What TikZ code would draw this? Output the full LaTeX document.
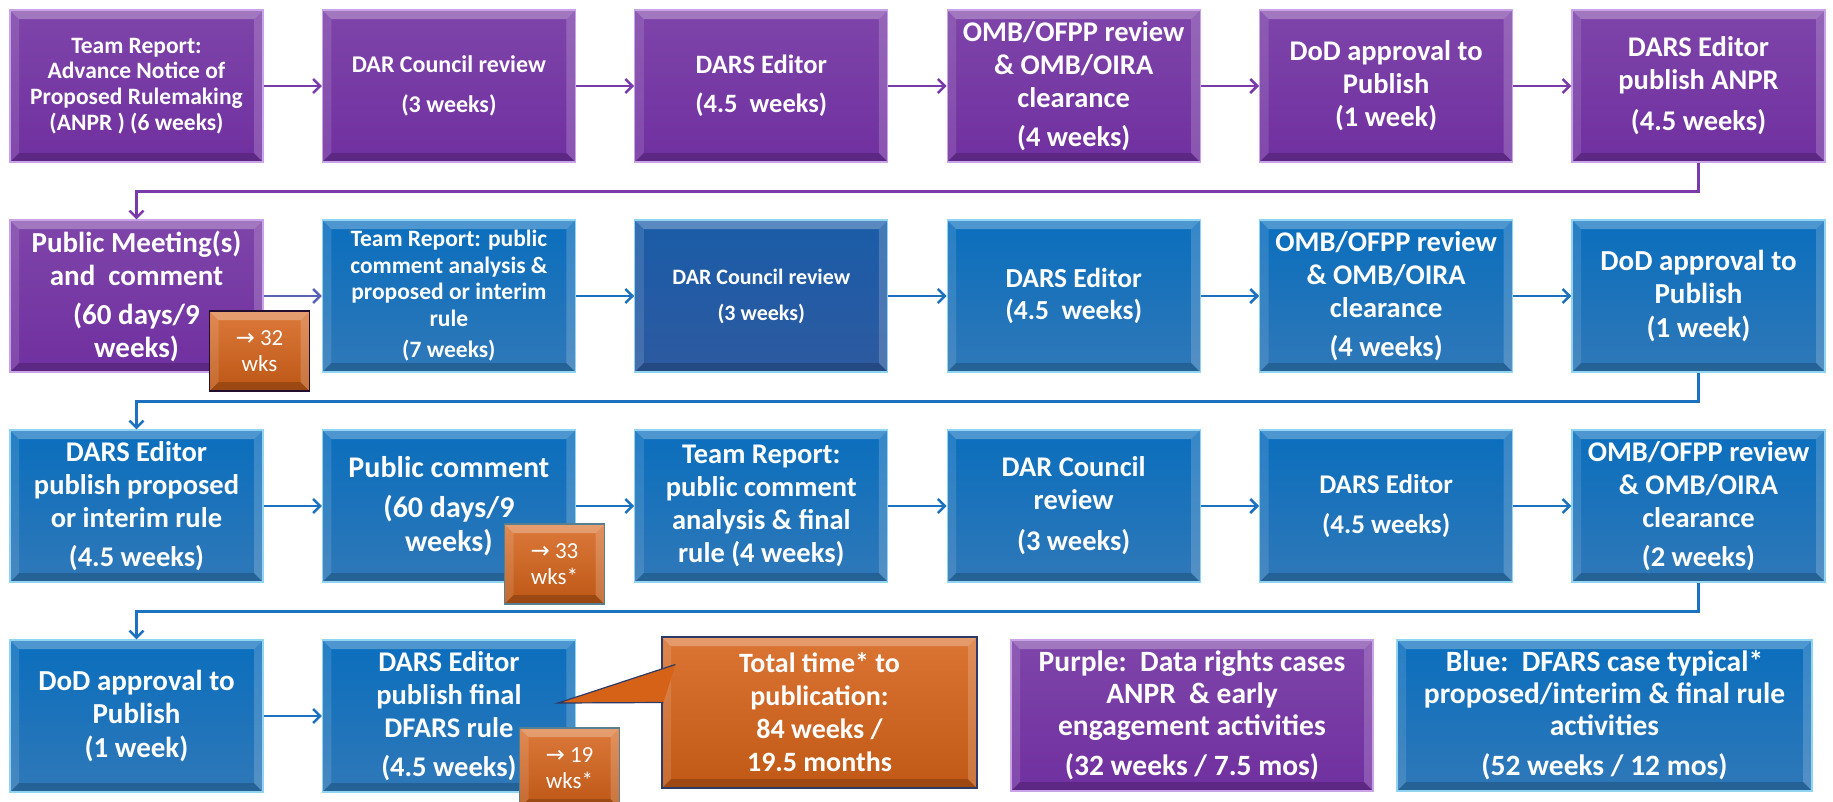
\documentclass[tikz,border=0pt]{standalone}
\usepackage{fontspec}
\setmainfont{Carlito}
\newfontfamily\arrowfont{DejaVu Sans}
\usetikzlibrary{arrows.meta}
\definecolor{anprpurple}{HTML}{7030A0}
\definecolor{purpleedge}{HTML}{C9A3E8}
\definecolor{rulebluetop}{HTML}{0A6EBD}
\definecolor{ruleblue}{HTML}{2F78B8}
\definecolor{councilbluetop}{HTML}{1A5CA8}
\definecolor{councilblue}{HTML}{2D5AA0}
\definecolor{blueedge}{HTML}{90D4F2}
\definecolor{weeksorange}{HTML}{D66218}
\definecolor{calloutedge}{HTML}{2E3A66}
\definecolor{purpleline}{HTML}{7A3BAA}
\definecolor{mixline}{HTML}{5A62B5}
\definecolor{blueline}{HTML}{1C72BE}

\tikzset{
  bevel/.style={path picture={
    \fill[white, opacity=.28] (path picture bounding box.north west) -- (path picture bounding box.north east)
      -- ([shift={(-9pt,-9pt)}]path picture bounding box.north east) -- ([shift={(9pt,-9pt)}]path picture bounding box.north west) -- cycle;
    \fill[white, opacity=.12] (path picture bounding box.north west) -- ([shift={(9pt,-9pt)}]path picture bounding box.north west)
      -- ([shift={(9pt,9pt)}]path picture bounding box.south west) -- (path picture bounding box.south west) -- cycle;
    \fill[white, opacity=.18] (path picture bounding box.north east) -- ([shift={(-9pt,-9pt)}]path picture bounding box.north east)
      -- ([shift={(-9pt,9pt)}]path picture bounding box.south east) -- (path picture bounding box.south east) -- cycle;
    \fill[black, opacity=.18] (path picture bounding box.south west) -- (path picture bounding box.south east)
      -- ([shift={(-9pt,9pt)}]path picture bounding box.south east) -- ([shift={(9pt,9pt)}]path picture bounding box.south west) -- cycle;
  }},
  stage/.style={rectangle, minimum width=253pt, minimum height=152pt, inner sep=2pt, align=center,
    text=white, line width=1.2pt, bevel, font=\fontsize{28.5}{33}\selectfont\bfseries},
  anprstage/.style={stage, draw=purpleedge, top color=anprpurple!90!white, bottom color=anprpurple},
  rulestage/.style={stage, draw=blueedge, top color=rulebluetop, bottom color=ruleblue},
  councilstage/.style={stage, draw=blueedge, top color=councilbluetop, bottom color=councilblue},
  fsize/.style 2 args={font=\fontsize{#1}{#2}\selectfont\bfseries},
  badge/.style={rectangle, minimum width=100pt, minimum height=80pt, inner sep=1pt, align=center,
    text=white, line width=1.5pt, bevel, top color=weeksorange!85!white, bottom color=weeksorange!88!black,
    font=\fontsize{23}{26}\selectfont},
  flow/.style={line width=2.5pt, -{Straight Barb[length=7pt,width=14pt]}},
  anprflow/.style={flow, draw=purpleline},
  mixflow/.style={flow, draw=mixline},
  ruleflow/.style={flow, draw=blueline},
}

\begin{document}
\begin{tikzpicture}[x=1pt, y=-1pt]
  \path[use as bounding box, fill=white] (0,0) rectangle (1833,801);

  % row 1: ANPR
  \node[anprstage, fsize={23.5}{25.7}] (p1) at (136.5,86) {Team Report:\\Advance Notice of\\Proposed Rulemaking\\(ANPR ) (6 weeks)};
  \node[anprstage, fsize={24}{28}] (p2) at (448.9,86) {DAR Council review\\[12pt](3 weeks)};
  \node[anprstage, fsize={26.5}{31}] (p3) at (761.3,86) {DARS Editor\\[8pt](4.5\ \ weeks)};
  \node[anprstage] (p4) at (1073.7,86) {OMB/OFPP review\\\& OMB/OIRA\\clearance\\[6pt](4 weeks)};
  \node[anprstage] (p5) at (1386.1,86) {DoD approval to\\Publish\\(1 week)};
  \node[anprstage] (p6) at (1698.5,86) {DARS Editor\\publish ANPR\\[8pt](4.5 weeks)};

  % row 2: public meeting, proposed rule
  \node[anprstage, fsize={29}{33}] (p7) at (136.5,296) {Public Meeting(s)\\and\ \ comment\\[6pt](60 days/9\\weeks)};
  \node[rulestage, fsize={23.5}{26.5}] (b1) at (448.9,296) {Team Report: public\\comment analysis \&\\proposed or interim\\rule\\[5pt](7 weeks)};
  \node[councilstage, fsize={22}{26}] (b2) at (761.3,296) {DAR Council review\\[10pt](3 weeks)};
  \node[rulestage, fsize={27.5}{32}] (b3) at (1073.7,296) {DARS Editor\\(4.5\ \ weeks)};
  \node[rulestage] (b4) at (1386.1,296) {OMB/OFPP review\\\& OMB/OIRA\\clearance\\[6pt](4 weeks)};
  \node[rulestage, fsize={29}{33.5}] (b5) at (1698.5,296) {DoD approval to\\Publish\\(1 week)};

  % row 3: publish proposed rule, final rule
  \node[rulestage] (b6) at (136.5,506) {DARS Editor\\publish proposed\\or interim rule\\[6pt](4.5 weeks)};
  \node[rulestage, fsize={30}{34}] (b7) at (448.9,506) {Public comment\\[6pt](60 days/9\\weeks)};
  \node[rulestage] (b8) at (761.3,506) {Team Report:\\public comment\\analysis \& final\\rule (4 weeks)};
  \node[rulestage] (b9) at (1073.7,506) {DAR Council\\review\\[8pt](3 weeks)};
  \node[rulestage, fsize={27}{32}] (b10) at (1386.1,506) {DARS Editor\\[8pt](4.5 weeks)};
  \node[rulestage] (b11) at (1698.5,506) {OMB/OFPP review\\\& OMB/OIRA\\clearance\\[6pt](2 weeks)};

  % row 4: publish final rule
  \node[rulestage, fsize={29}{33.5}] (b12) at (136.5,716) {DoD approval to\\Publish\\(1 week)};
  \node[rulestage] (b13) at (448.9,716) {DARS Editor\\publish final\\DFARS rule\\[6pt](4.5 weeks)};

  % connectors
  \foreach \a/\b in {p1/p2,p2/p3,p3/p4,p4/p5,p5/p6}
    \draw[anprflow] (\a) -- (\b);
  \draw[anprflow] (p6.south) -- ++(0,29) -| (p7.north);
  \draw[mixflow] (p7) -- (b1);
  \foreach \a/\b in {b1/b2,b2/b3,b3/b4,b4/b5,b6/b7,b7/b8,b8/b9,b9/b10,b10/b11,b12/b13}
    \draw[ruleflow] (\a) -- (\b);
  \draw[ruleflow] (b5.south) -- ++(0,29) -| (b6.north);
  \draw[ruleflow] (b11.south) -- ++(0,29) -| (b12.north);

  % total time callout
  \node[stage, minimum width=315pt, minimum height=151pt, draw=calloutedge, top color=weeksorange!88!white,
    bottom color=weeksorange!90!black, fsize={28}{33}] (total) at (819.5,712.5) {Total time* to\\publication:\\84 weeks /\\19.5 months};
  \coordinate (tip) at ([shift={(-18pt,13pt)}]b13.east);
  \path[fill=weeksorange, draw=calloutedge, line width=1.2pt] ([shift={(14pt,48pt)}]total.west) -- (tip) -- ([shift={(2pt,10pt)}]total.west);

  % running totals
  \node[badge, draw=black!70!anprpurple] (w32) at (259.5,351) {{\arrowfont →} 32\\wks};
  \node[badge, draw=blueedge!60!black] (w33) at (554.5,564) {{\arrowfont →} 33\\wks*};
  \node[badge, draw=blueedge!60!black] (w19) at (569.5,768) {{\arrowfont →} 19\\wks*};

  % legend
  \node[anprstage, minimum width=362pt, minimum height=151pt, fsize={29.5}{32}] (purplekey) at (1192,715.5)
    {Purple:\ \ Data rights cases\\ANPR\ \ \& early\\engagement activities\\[8pt](32 weeks / 7.5 mos)};
  \node[rulestage, minimum width=415pt, minimum height=151pt, fsize={29.5}{32}] (bluekey) at (1604.5,715.5)
    {Blue:\ \ DFARS case typical*\\proposed/interim \& final rule\\activities\\[8pt](52 weeks / 12 mos)};
\end{tikzpicture}
\end{document}
